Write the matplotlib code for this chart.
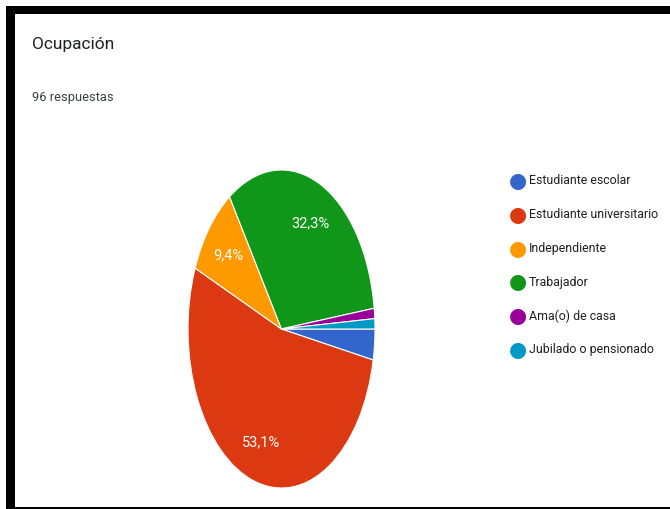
import matplotlib
matplotlib.use("Agg")
import matplotlib.pyplot as plt
from matplotlib.patches import Rectangle

# survey answers: "Ocupación", 96 respuestas
categorias = ["Estudiante escolar", "Estudiante universitario", "Independiente",
              "Trabajador", "Ama(o) de casa", "Jubilado o pensionado"]
respuestas = [3, 51, 9, 31, 1, 1]
colores = ["#3366cc", "#dc3912", "#ff9900", "#109618", "#990099", "#0099c6"]

W, H = 670, 510
fig = plt.figure(figsize=(W / 100, H / 100), dpi=100)
fig.patch.set_facecolor("white")

fuente = ["Roboto", "DejaVu Sans"]

# black frame on the left, top and bottom
for x0, y0, w, h in [(6, 0, 9, 503), (6, 495, 664, 8), (6, 0, 664, 2.5)]:
    fig.add_artist(Rectangle((x0 / W, y0 / H), w / W, h / H, transform=fig.transFigure,
                             facecolor="black", edgecolor="none"))

fig.text(32 / W, 1 - 45 / H, "Ocupación", fontsize=12.5, color="#202124",
         family=fuente, va="center", ha="left")
fig.text(32 / W, 1 - 97 / H, f"{sum(respuestas)} respuestas", fontsize=9.3,
         color="#3c4043", family=fuente, va="center", ha="left")

# pie squeezed horizontally (ellipse), starting at 3 o'clock and going clockwise
cx, cy, rx, ry = 281.5, 330, 93.5, 159
ax = fig.add_axes([(cx - rx) / W, 1 - (cy + ry) / H, 2 * rx / W, 2 * ry / H])


def etiqueta(p):
    return f"{p:.1f}%".replace(".", ",") if p > 5 else ""


wedges, _, autotexts = ax.pie(respuestas, colors=colores, startangle=0, counterclock=False,
                              autopct=etiqueta, pctdistance=0.74,
                              wedgeprops=dict(edgecolor="white", linewidth=0.8),
                              textprops=dict(color="white", fontsize=10.5, family=fuente))
ax.set_aspect("auto")
ax.set_xlim(-1, 1)
ax.set_ylim(-1, 1)
ax.axis("off")

# legend to the right
y_first, paso = 181, 33.8
for i, (cat, col) in enumerate(zip(categorias, colores)):
    y = 1 - (y_first + i * paso) / H
    fig.text(518 / W, y, "\u25CF", color=col, fontsize=15, ha="center", va="center",
             family="DejaVu Sans")
    fig.text(529 / W, y, cat, color="#202020", fontsize=8.9, ha="left", va="center",
             family=fuente)

fig.savefig("out.png", dpi=100, facecolor="white")
